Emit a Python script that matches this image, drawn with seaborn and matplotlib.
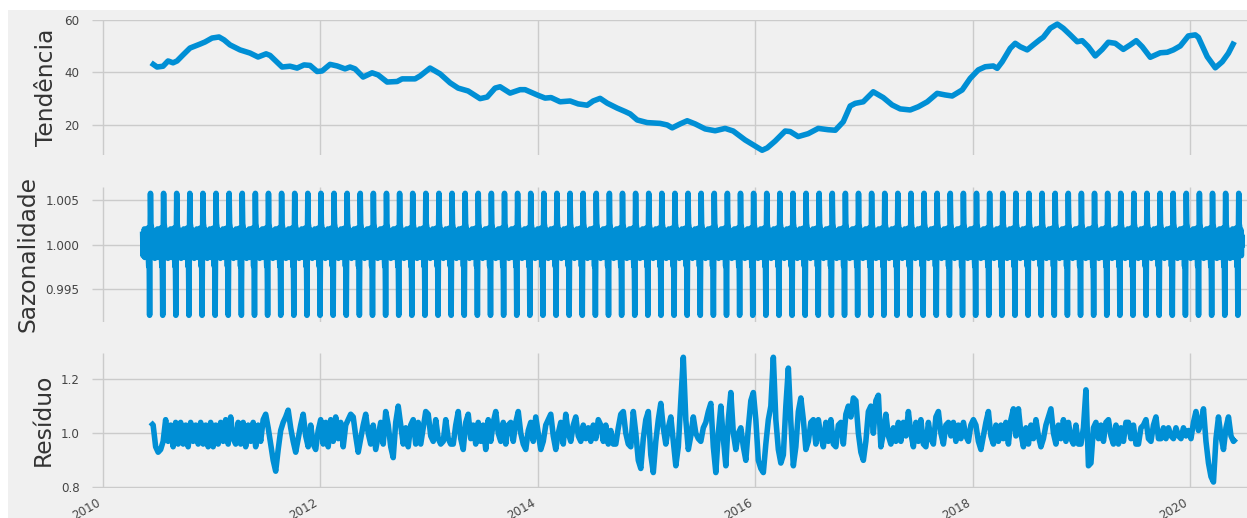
import numpy as np
import pandas as pd
import matplotlib
matplotlib.use("Agg")
import matplotlib.pyplot as plt
import matplotlib.dates as mdates
from matplotlib.ticker import FixedLocator, FormatStrFormatter
from matplotlib.patches import Rectangle
import seaborn as sns

# ---- Trend component (decimal year, value) ----
trend_years = [
    2010.442, 2010.497, 2010.552, 2010.598, 2010.644, 2010.681, 2010.736, 2010.800, 2010.892, 2010.938,
    2011.003, 2011.067, 2011.113, 2011.168, 2011.260, 2011.352, 2011.426, 2011.500, 2011.536, 2011.647,
    2011.720, 2011.785, 2011.849, 2011.904, 2011.969, 2012.015, 2012.088, 2012.153, 2012.226, 2012.272,
    2012.318, 2012.392, 2012.475, 2012.530, 2012.613, 2012.705, 2012.751, 2012.870, 2012.916, 2013.008,
    2013.100, 2013.192, 2013.266, 2013.358, 2013.468, 2013.533, 2013.606, 2013.652, 2013.744, 2013.836,
    2013.882, 2013.993, 2014.066, 2014.121, 2014.204, 2014.296, 2014.370, 2014.453, 2014.508, 2014.572,
    2014.637, 2014.729, 2014.802, 2014.848, 2014.913, 2015.005, 2015.124, 2015.189, 2015.235, 2015.308,
    2015.373, 2015.446, 2015.538, 2015.630, 2015.722, 2015.796, 2015.906, 2015.998, 2016.062, 2016.109,
    2016.182, 2016.274, 2016.320, 2016.394, 2016.486, 2016.578, 2016.670, 2016.735, 2016.808, 2016.872,
    2016.918, 2016.992, 2017.084, 2017.176, 2017.258, 2017.332, 2017.424, 2017.498, 2017.581, 2017.672,
    2017.746, 2017.810, 2017.902, 2017.976, 2018.050, 2018.114, 2018.188, 2018.224, 2018.270, 2018.344,
    2018.390, 2018.436, 2018.500, 2018.556, 2018.620, 2018.648, 2018.712, 2018.777, 2018.832, 2018.896,
    2018.960, 2019.006, 2019.062, 2019.126, 2019.190, 2019.246, 2019.310, 2019.384, 2019.448, 2019.503,
    2019.558, 2019.632, 2019.724, 2019.788, 2019.844, 2019.908, 2019.982, 2020.046, 2020.074, 2020.156,
    2020.230, 2020.294, 2020.350, 2020.405,
]
trend_values = [
    43.6, 42.0, 42.3, 44.3, 43.6, 44.3, 46.6, 49.2, 50.7, 51.5,
    53.0, 53.4, 52.3, 50.4, 48.5, 47.3, 45.8, 47.0, 46.4, 42.0,
    42.3, 41.6, 42.8, 42.6, 40.3, 40.5, 43.0, 42.4, 41.3, 42.0,
    41.3, 38.2, 39.8, 39.0, 36.3, 36.5, 37.5, 37.5, 38.6, 41.6,
    39.4, 36.0, 34.0, 32.9, 30.0, 30.6, 34.0, 34.5, 32.1, 33.4,
    33.4, 31.4, 30.2, 30.4, 28.8, 29.1, 28.0, 27.5, 29.1, 30.1,
    28.3, 26.4, 25.1, 24.2, 21.9, 20.9, 20.6, 20.0, 18.9, 20.4,
    21.6, 20.4, 18.5, 17.8, 18.7, 17.7, 14.3, 12.0, 10.4, 11.3,
    13.9, 17.7, 17.5, 15.6, 16.7, 18.7, 18.2, 18.0, 21.2, 27.2,
    28.2, 28.8, 32.6, 30.4, 27.6, 26.1, 25.7, 26.9, 28.8, 32.0,
    31.4, 31.0, 33.3, 37.7, 40.9, 42.1, 42.4, 41.5, 44.0, 49.1,
    51.0, 49.7, 48.5, 50.4, 52.5, 53.3, 56.7, 58.3, 56.7, 54.2,
    51.6, 52.0, 49.7, 46.2, 48.7, 51.4, 51.0, 48.7, 50.4, 52.0,
    49.7, 45.7, 47.4, 47.6, 48.5, 50.0, 53.8, 54.2, 53.3, 45.9,
    41.7, 44.0, 47.2, 51.6,
]

# ---- Seasonal component: one 30-step cycle, repeated over the sample ----
seasonal_cycle = [
    1.0015, 0.9988, 1.0012, 0.9992, 1.0018, 0.9986, 1.0010, 0.9996, 1.0016, 0.9989,
    1.0013, 0.9994, 1.0019, 0.9987, 0.9976, 0.9990, 0.9921, 1.0002, 1.0058, 1.0024,
    1.0021, 1.0009, 0.9993, 1.0017, 0.9988, 1.0011, 0.9997, 1.0014, 0.9985, 1.0008,
]
seasonal_start, seasonal_end, seasonal_count = "2010-05-14", "2020-06-24", 2517

# ---- Residual component ----
resid_start, resid_end = "2010-06-10", "2020-06-03"
resid_values = [
    1.04, 1.03, 0.95, 0.93, 0.94, 0.97, 1.05, 0.97, 1.03, 0.95, 1.04, 0.96, 1.04, 0.96, 1.03, 0.95, 1.04, 0.97, 1.03, 0.96,
    1.04, 0.96, 1.03, 0.95, 1.04, 0.95, 1.03, 0.96, 1.04, 0.97, 1.05, 0.96, 1.06, 0.98, 0.96, 1.04, 0.96, 1.04, 0.95, 1.03,
    0.97, 1.04, 0.95, 1.03, 0.97, 1.05, 1.07, 1.02, 0.96, 0.90, 0.86, 0.94, 1.01, 1.04, 1.06, 1.085, 1.02, 0.97, 0.93, 0.98,
    1.03, 1.07, 0.99, 0.95, 1.03, 0.96, 0.94, 1.01, 1.05, 0.96, 1.04, 0.95, 1.05, 0.97, 1.06, 0.98, 1.04, 0.95, 1.03, 1.05,
    1.07, 1.06, 0.99, 0.93, 0.98, 1.03, 1.07, 1.00, 0.96, 1.03, 0.94, 0.99, 1.04, 0.96, 1.08, 1.03, 0.95, 0.91, 1.04, 1.10,
    1.03, 0.96, 1.02, 0.95, 1.03, 1.05, 0.96, 1.04, 0.96, 1.02, 1.08, 1.07, 0.99, 0.97, 1.05, 0.98, 0.96, 0.97, 1.05, 0.98,
    0.96, 0.96, 1.03, 1.08, 0.98, 0.94, 1.04, 1.07, 0.98, 1.03, 0.96, 1.04, 0.97, 1.03, 0.94, 1.05, 0.97, 1.04, 1.08, 1.00,
    0.97, 1.04, 0.96, 1.03, 1.04, 0.97, 1.04, 1.08, 1.00, 0.96, 0.94, 1.01, 1.04, 0.97, 1.06, 1.00, 0.94, 0.97, 1.03, 1.05,
    1.07, 0.99, 0.94, 1.00, 1.04, 0.96, 1.07, 1.00, 0.97, 1.03, 1.06, 0.99, 0.97, 1.03, 0.98, 1.02, 0.97, 1.03, 0.98, 1.05,
    1.03, 0.97, 1.03, 0.96, 1.01, 0.96, 0.96, 1.02, 1.07, 1.08, 1.00, 0.96, 0.95, 1.08, 1.00, 0.90, 0.87, 0.98, 1.05, 1.08,
    0.92, 0.855, 0.97, 1.05, 1.11, 1.02, 0.96, 1.02, 1.06, 0.97, 0.88, 0.95, 1.12, 1.28, 1.05, 0.94, 0.99, 1.06, 1.00, 0.98,
    0.97, 1.02, 1.04, 1.08, 1.11, 0.95, 0.855, 1.00, 1.10, 0.98, 0.88, 1.05, 1.15, 1.00, 0.94, 1.00, 1.02, 0.95, 0.90, 1.02,
    1.12, 1.15, 1.05, 0.90, 0.87, 0.855, 0.96, 1.05, 1.10, 1.28, 1.05, 0.94, 0.89, 0.92, 1.10, 1.24, 1.04, 0.88, 0.95, 1.08,
    1.13, 1.05, 0.94, 0.97, 1.04, 1.05, 0.96, 1.05, 0.99, 0.95, 1.04, 0.97, 1.05, 0.96, 0.95, 1.03, 1.04, 0.96, 1.07, 1.10,
    1.06, 1.13, 1.12, 1.00, 0.93, 0.90, 0.97, 1.08, 1.10, 1.00, 1.12, 1.14, 0.95, 1.00, 1.07, 0.99, 0.96, 1.02, 0.97, 1.04,
    0.97, 1.04, 0.99, 1.08, 1.00, 0.95, 1.04, 0.97, 1.05, 0.96, 0.95, 1.04, 0.98, 0.96, 1.06, 1.08, 1.00, 0.96, 1.03, 1.04,
    0.99, 1.04, 0.97, 1.03, 0.98, 1.04, 0.99, 0.97, 1.03, 1.05, 1.03, 0.97, 0.94, 0.99, 1.04, 1.08, 0.99, 0.96, 1.03, 0.97,
    1.03, 0.98, 1.04, 0.96, 1.05, 1.09, 0.99, 1.09, 1.00, 0.95, 1.02, 0.96, 1.03, 0.98, 1.05, 0.99, 0.95, 0.98, 1.03, 1.06,
    1.09, 1.00, 0.96, 1.03, 0.98, 1.05, 0.97, 1.04, 0.98, 0.96, 1.03, 0.96, 0.96, 1.02, 1.16, 0.88, 0.89, 1.02, 1.04, 0.98,
    1.03, 0.97, 1.04, 1.05, 0.99, 0.96, 1.03, 0.96, 1.02, 0.97, 1.04, 1.04, 0.98, 1.03, 0.96, 0.96, 1.02, 1.03, 1.05, 0.98,
    0.97, 1.03, 1.06, 0.98, 0.98, 1.02, 0.98, 1.02, 0.99, 0.98, 1.02, 0.99, 0.98, 1.02, 0.99, 1.01, 0.98, 1.04, 1.08, 1.01,
    1.04, 1.09, 0.97, 0.89, 0.84, 0.82, 0.98, 1.06, 0.99, 0.94, 1.02, 1.06, 0.99, 0.97, 0.98,
]

panel_labels = ["Tendência", "Sazonalidade", "Resíduo"]
panel_ticks = [[20, 40, 60], [0.995, 1.000, 1.005], [0.8, 1.0, 1.2]]
panel_formats = ["%d", "%.3f", "%.1f"]
panel_ylims = [(8.6, 60.0), (0.99138, 1.00648), (0.7995, 1.2958)]

# ---- Build the series ----
base = pd.Timestamp("2010-01-01")
trend_dates = base + pd.to_timedelta((np.array(trend_years) - 2010.0) * 365.25, unit="D")
trend_df = pd.DataFrame({"date": trend_dates, "value": trend_values})

seasonal_dates = pd.date_range(seasonal_start, seasonal_end, periods=seasonal_count)
seasonal_df = pd.DataFrame({"date": seasonal_dates,
                            "value": np.resize(seasonal_cycle, seasonal_count)})

resid_dates = pd.date_range(resid_start, resid_end, periods=len(resid_values))
resid_df = pd.DataFrame({"date": resid_dates, "value": resid_values})

# ---- Style ----
plt.style.use("fivethirtyeight")
plt.rcParams["font.family"] = ["DejaVu Sans"]
line_color = "#008fd5"

W, H = 1247, 518
fig = plt.figure(figsize=(W / 100, H / 100), dpi=100, facecolor="white")
fig.add_artist(Rectangle((8 / W, 0), 1, (H - 10) / H, transform=fig.transFigure,
                         facecolor="#f0f0f0", edgecolor="none", zorder=-10))

left, width = 92 / W, 1 - 92 / W
positions = [
    [left, (H - 155) / H, width, 135.4 / H],
    [left, (H - 321.7) / H, width, 134.4 / H],
    [left, (H - 487.6) / H, width, 134.6 / H],
]
ax0 = fig.add_axes(positions[0])
ax1 = fig.add_axes(positions[1], sharex=ax0)
ax2 = fig.add_axes(positions[2], sharex=ax0)
axes = [ax0, ax1, ax2]

for ax, df in zip(axes, [trend_df, seasonal_df, resid_df]):
    sns.lineplot(data=df, x="date", y="value", ax=ax, color=line_color,
                 linewidth=4, estimator=None)

for ax, label, ticks, fmt, ylim in zip(axes, panel_labels, panel_ticks, panel_formats, panel_ylims):
    ax.set_facecolor("#f0f0f0")
    ax.set_ylim(*ylim)
    ax.yaxis.set_major_locator(FixedLocator(ticks))
    ax.yaxis.set_major_formatter(FormatStrFormatter(fmt))
    ax.set_ylabel(label, fontsize=16.8, color="#333333", labelpad=4.5)
    ax.set_xlabel("")
    ax.tick_params(axis="y", labelsize=8.6, labelcolor="#444444", pad=9, length=0)
    ax.tick_params(axis="x", labelsize=8.6, labelcolor="#444444", pad=6, length=0)
    ax.grid(True, color="#cbcbcb", linewidth=1.0)
    for s in ax.spines.values():
        s.set_visible(False)

ax2.set_xlim(pd.Timestamp("2009-11-25"), pd.Timestamp("2020-07-10"))
ax2.xaxis.set_major_locator(mdates.YearLocator(2))
ax2.xaxis.set_major_formatter(mdates.DateFormatter("%Y"))
ax0.tick_params(axis="x", labelbottom=False)
ax1.tick_params(axis="x", labelbottom=False)
for lab in ax2.get_xticklabels():
    lab.set_rotation(30)
    lab.set_ha("right")

fig.savefig("out.png", dpi=100, facecolor="white")
